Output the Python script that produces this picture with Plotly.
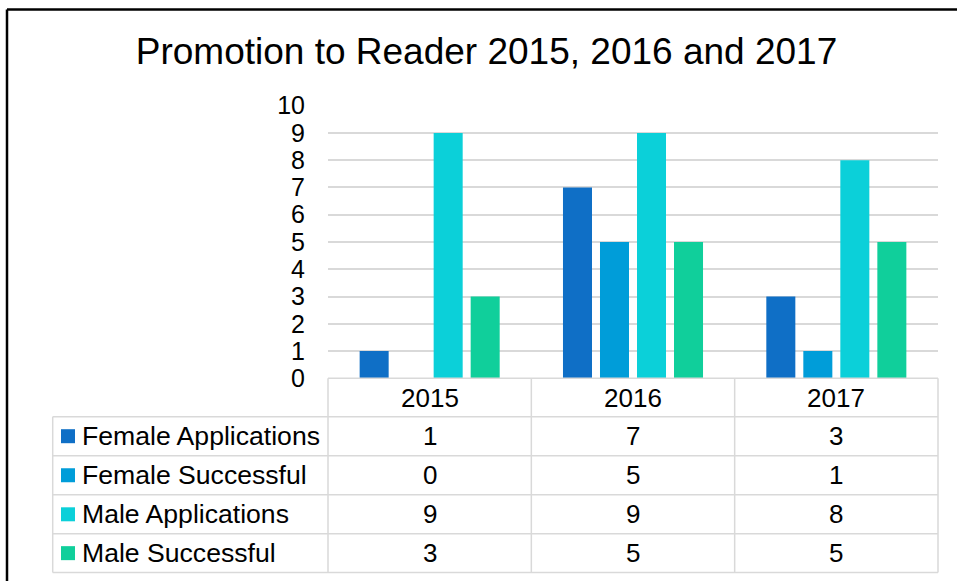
import plotly.graph_objects as go

# Chart data
years = ["2015", "2016", "2017"]
series_names = ["Female Applications", "Female Successful", "Male Applications", "Male Successful"]
female_applications = [1, 7, 3]
female_successful = [0, 5, 1]
male_applications = [9, 9, 8]
male_successful = [3, 5, 5]
y_ticks = [0, 1, 2, 3, 4, 5, 6, 7, 8, 9, 10]

series_values = [female_applications, female_successful, male_applications, male_successful]
colors = ["#0F6FC6", "#009DD9", "#0BD0D9", "#10CF9B"]

W, H = 957, 581
FONT = "Liberation Sans, Arial, sans-serif"
GRID = "#D9D9D9"
TABLE_SIZE = 26
NAME_SIZE = 26.6


def px(x):
    return x / W


def py(y):
    return 1 - y / H


# Layout geometry (pixels)
plot_left, plot_right = 328, 938
y_zero, y_top = 378.3, 105.7
legend_left = 52.7
row_edges = [378.3, 416.7, 455.7, 494.8, 533.8, 572.5]

fig = go.Figure()
for name, vals, col in zip(series_names, series_values, colors):
    fig.add_trace(go.Bar(x=years, y=vals, name=name, marker=dict(color=col, line=dict(width=0))))

shapes = []
annotations = []

# Column boundaries of the data table follow the category bands
n = len(years)
col_w = (plot_right - plot_left) / n
col_edges = [plot_left + i * col_w for i in range(n + 1)]

line = dict(color=GRID, width=1.5)
# Header row (years)
shapes.append(dict(type="line", xref="paper", yref="paper", x0=px(plot_left), x1=px(plot_right),
                   y0=py(row_edges[0]), y1=py(row_edges[0]), line=line))
for xe in col_edges:
    shapes.append(dict(type="line", xref="paper", yref="paper", x0=px(xe), x1=px(xe),
                       y0=py(row_edges[0]), y1=py(row_edges[-1]), line=line))
# Body rows
for ye in row_edges[1:]:
    shapes.append(dict(type="line", xref="paper", yref="paper", x0=px(legend_left), x1=px(plot_right),
                       y0=py(ye), y1=py(ye), line=line))
shapes.append(dict(type="line", xref="paper", yref="paper", x0=px(legend_left), x1=px(legend_left),
                   y0=py(row_edges[1]), y1=py(row_edges[-1]), line=line))

# Year headers
for i, yr in enumerate(years):
    cx = (col_edges[i] + col_edges[i + 1]) / 2
    cy = (row_edges[0] + row_edges[1]) / 2
    annotations.append(dict(x=px(cx), y=py(cy), xref="paper", yref="paper", text=yr, showarrow=False,
                            font=dict(family=FONT, size=TABLE_SIZE, color="black"),
                            xanchor="center", yanchor="middle"))

# Series rows: legend key, name and values
for r, (name, vals, col) in enumerate(zip(series_names, series_values, colors)):
    top, bot = row_edges[r + 1], row_edges[r + 2]
    cy = (top + bot) / 2
    shapes.append(dict(type="rect", xref="paper", yref="paper", x0=px(61), x1=px(75),
                       y0=py(cy + 7), y1=py(cy - 7), fillcolor=col, line=dict(width=0)))
    annotations.append(dict(x=px(80), y=py(cy), xref="paper", yref="paper", text=name, showarrow=False,
                            font=dict(family=FONT, size=NAME_SIZE, color="black"),
                            xanchor="left", yanchor="middle"))
    for i, v in enumerate(vals):
        cx = (col_edges[i] + col_edges[i + 1]) / 2
        annotations.append(dict(x=px(cx), y=py(cy), xref="paper", yref="paper", text=str(v), showarrow=False,
                                font=dict(family=FONT, size=TABLE_SIZE, color="black"),
                                xanchor="center", yanchor="middle"))

# Outer frame (left and top edges)
frame = dict(color="black", width=2.5)
shapes.append(dict(type="line", xref="paper", yref="paper", x0=px(7), x1=px(7), y0=py(9.5), y1=0, line=frame))
shapes.append(dict(type="line", xref="paper", yref="paper", x0=px(7), x1=1, y0=py(9.5), y1=py(9.5), line=frame))

fig.update_layout(
    template="none",
    width=W, height=H, autosize=False,
    margin=dict(l=0, r=0, t=0, b=0, pad=0, autoexpand=False),
    paper_bgcolor="white", plot_bgcolor="white",
    barmode="group", bargap=0.272, bargroupgap=0.216,
    showlegend=False,
    title=dict(text="Promotion to Reader 2015, 2016 and 2017", x=px(486.5), y=py(51),
               xanchor="center", yanchor="middle", xref="paper", yref="paper", automargin=False,
               font=dict(family=FONT, size=37, color="black")),
    xaxis=dict(domain=[px(plot_left), px(plot_right)], showticklabels=False, showgrid=False,
               zeroline=False, showline=False, ticks="", automargin=False),
    yaxis=dict(domain=[py(y_zero), py(y_top)], range=[0, 10], tickvals=y_ticks,
               showgrid=True, gridcolor=GRID, gridwidth=1.5, zeroline=False, showline=False,
               ticks="", ticklabelstandoff=22, automargin=False,
               tickfont=dict(family=FONT, size=25, color="black")),
    shapes=shapes,
    annotations=annotations,
)

fig.write_html("out.html")
